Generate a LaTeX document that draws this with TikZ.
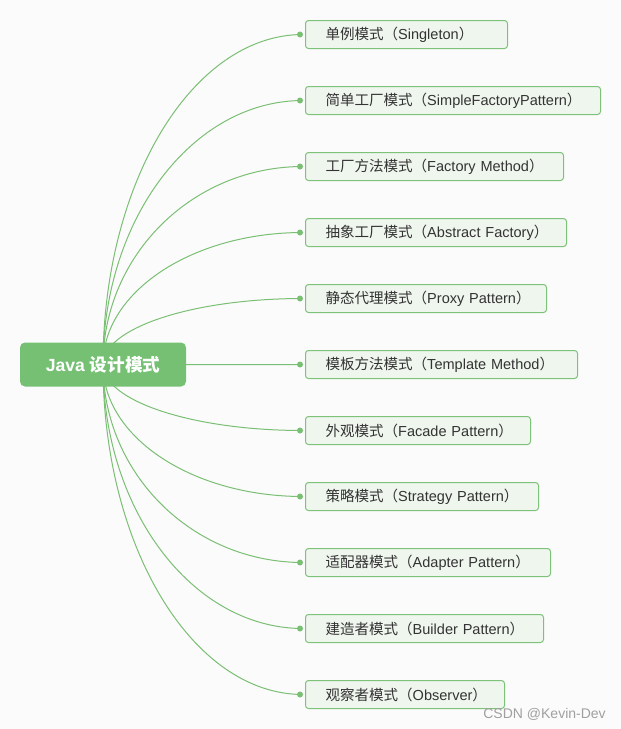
\documentclass[tikz,border=0pt]{standalone}
\usepackage{fontspec}
\setmainfont{Liberation Sans}
\newfontfamily\cjk{Noto Sans CJK SC}
\newcommand\zh[1]{{\cjk #1}}
\usetikzlibrary{calc,backgrounds}
\definecolor{bgcol}{HTML}{FBFBFB}
\definecolor{rootfill}{HTML}{76C074}
\definecolor{leaffill}{HTML}{EFF6EE}
\definecolor{leafdraw}{HTML}{7DC278}
\definecolor{linkcol}{HTML}{7ABF73}
\definecolor{txt}{HTML}{333333}
\definecolor{markcol}{HTML}{A0A0A0}
\begin{document}
\begin{tikzpicture}[x=0.75pt,y=-0.75pt,
  rootbox/.style={fill=rootfill, rounded corners=3.75pt, minimum width=124.5pt,
    minimum height=33pt, inner sep=0pt, text=white,
    font=\fontsize{13.2}{15}\selectfont\bfseries},
  leafbox/.style={draw=leafdraw, fill=leaffill, line width=0.75pt,
    rounded corners=2.25pt, minimum height=21pt, inner xsep=15pt, inner ysep=0pt,
    anchor=west, text=txt, align=left, font=\fontsize{10.9}{13}\selectfont},
  link/.style={draw=linkcol, line width=0.75pt},
  linkdot/.style={fill=linkcol},
  wmark/.style={text=markcol, font=\fontsize{10.5}{12}\selectfont, inner sep=0pt}]
\useasboundingbox (0,0) rectangle (621,729);
\node[rootbox] (root) at (103,364.5) {Java \zh{设计模式}};
\foreach \i/\w/\a/\b in {0/202/单例模式/Singleton,
  1/295/简单工厂模式/SimpleFactoryPattern,
  2/258/工厂方法模式/Factory Method,
  3/261/抽象工厂模式/Abstract Factory,
  4/241/静态代理模式/Proxy Pattern,
  5/272/模板方法模式/Template Method,
  6/225/外观模式/Facade Pattern,
  7/233/策略模式/Strategy Pattern,
  8/245/适配器模式/Adapter Pattern,
  9/238/建造者模式/Builder Pattern,
  10/199/观察者模式/Observer}{
  \pgfmathsetmacro\tw{(\w-40)*0.75}
  \node[leafbox, text width=\tw pt] (l\i) at (305,{34.5+66*\i})
    {\mbox{\zh{\a（}\b\zh{）}}};
  \coordinate (e\i) at ($(l\i.west)+(-2,0)$);
  \coordinate (d\i) at ($(l\i.west)+(-5,0)$);
}
\node[wmark, anchor=east] (wm) at (606,714.5) {CSDN @Kevin-Dev};
\begin{scope}[on background layer]
  \fill[bgcol] (0,0) rectangle (621,729);
  \foreach \i in {0,...,10}{
    \draw[link] (root.center) .. controls ($(root.center)!0.5523!(root.center|-e\i)$)
      and ($(e\i)!0.5523!(root.center|-e\i)$) .. (e\i);
    \fill[linkdot] (d\i) circle (2.25pt);
  }
\end{scope}
\end{tikzpicture}
\end{document}
